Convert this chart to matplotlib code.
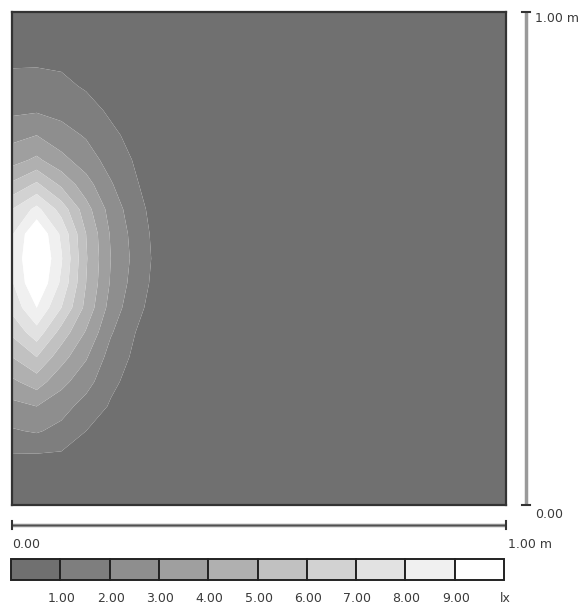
import numpy as np
import matplotlib
matplotlib.use('Agg')
import matplotlib.pyplot as plt
from matplotlib.patches import Rectangle

# ---- data (illuminance grid, lx) ----
x_m = [0.00, 0.05, 0.10, 0.15, 0.20, 0.25, 0.30, 0.40, 1.00]
y_m = [0.00, 0.05, 0.10, 0.15, 0.20, 0.25, 0.30, 0.35, 0.40, 0.45, 0.50,
       0.55, 0.60, 0.65, 0.70, 0.75, 0.80, 0.85, 0.90, 0.95, 1.00]

col_x000 = [0.3, 0.6, 0.9, 1.9, 2.7, 3.8, 5.0, 6.2, 7.3, 7.9, 8.1,
            7.9, 7.0, 5.2, 3.6, 2.7, 1.8, 1.25, 0.9, 0.5, 0.3]
col_x005 = [0.3, 0.6, 0.9, 2.1, 3.0, 4.5, 6.0, 7.6, 9.0, 10.0, 10.3,
            10.0, 8.3, 6.2, 4.2, 3.0, 1.9, 1.3, 0.9, 0.5, 0.3]
col_x010 = [0.3, 0.55, 0.85, 1.7, 2.4, 3.3, 4.4, 5.6, 7.0, 7.8, 8.1,
            7.8, 6.6, 4.8, 3.3, 2.4, 1.7, 1.2, 0.85, 0.5, 0.3]
col_x015 = [0.25, 0.45, 0.6, 1.0, 1.6, 2.4, 3.1, 3.9, 4.7, 5.0, 5.1,
            5.0, 4.4, 3.4, 2.5, 1.9, 1.35, 0.9, 0.7, 0.4, 0.25]
col_x020 = [0.15, 0.3, 0.45, 0.65, 0.9, 1.2, 1.6, 2.1, 2.6, 2.9, 3.0,
            2.9, 2.6, 2.1, 1.6, 1.2, 0.85, 0.6, 0.45, 0.3, 0.15]
col_x025 = [0.1, 0.2, 0.3, 0.4, 0.5, 0.65, 0.8, 1.0, 1.3, 1.55, 1.7,
            1.6, 1.4, 1.1, 0.9, 0.7, 0.5, 0.35, 0.25, 0.2, 0.1]
col_x030 = [0.05, 0.1, 0.15, 0.2, 0.25, 0.3, 0.35, 0.4, 0.45, 0.55, 0.6,
            0.55, 0.45, 0.4, 0.35, 0.3, 0.25, 0.2, 0.15, 0.1, 0.05]
col_x040 = [0.02, 0.04, 0.06, 0.08, 0.1, 0.12, 0.14, 0.16, 0.18, 0.2, 0.2,
            0.2, 0.18, 0.16, 0.14, 0.12, 0.1, 0.08, 0.06, 0.04, 0.02]
col_x100 = [0.0] * 21

level_values = [1, 2, 3, 4, 5, 6, 7, 8, 9]
level_labels = ['1.00', '2.00', '3.00', '4.00', '5.00', '6.00', '7.00', '8.00', '9.00']
unit_label = 'lx'
band_colors = ['#707070', '#7e7e7e', '#8e8e8e', '#9f9f9f', '#b0b0b0',
               '#c1c1c1', '#d2d2d2', '#e2e2e2', '#f0f0f0', '#ffffff']
scale_min_label = '0.00'
scale_max_label = '1.00 m'

Z = np.column_stack([col_x000, col_x005, col_x010, col_x015, col_x020,
                     col_x025, col_x030, col_x040, col_x100])
X, Y = np.meshgrid(x_m, y_m)

W, H = 585, 605
fig = plt.figure(figsize=(W / 100, H / 100), dpi=100)
fig.patch.set_facecolor('white')

# main plot area: px 12..506 horizontally, 12..505 vertically
L, R, T, B = 12, 506, 12, 505
ax = fig.add_axes([L / W, (H - B) / H, (R - L) / W, (B - T) / H])
bounds = [-1] + level_values + [100]
ax.contourf(X, Y, Z, levels=bounds, colors=band_colors, antialiased=True)
ax.set_xlim(0, 1)
ax.set_ylim(0, 1)
ax.set_xticks([])
ax.set_yticks([])
for s in ax.spines.values():
    s.set_color('#333333')
    s.set_linewidth(1.6)

# overlay in pixel coordinates
ov = fig.add_axes([0, 0, 1, 1], zorder=-1)
ov.set_xlim(0, W)
ov.set_ylim(H, 0)
ov.axis('off')

fs = 9
fam = 'DejaVu Sans'
tc = '#3a3a3a'

# vertical scale bar
vx = 526
ov.plot([vx, vx], [T, B], color='#9a9a9a', lw=2.5, solid_capstyle='butt')
ov.plot([vx - 4, vx + 4], [T, T], color='#333333', lw=1.5)
ov.plot([vx - 4, vx + 4], [B, B], color='#333333', lw=1.5)
ov.text(vx + 9, T + 7, scale_max_label, fontsize=fs, family=fam, color=tc,
        ha='left', va='center')
ov.text(vx + 9, B + 10, scale_min_label, fontsize=fs, family=fam, color=tc,
        ha='left', va='center')

# horizontal scale bar
hy = 525
ov.plot([L, R], [hy, hy], color='#8a8a8a', lw=2.5, solid_capstyle='butt')
ov.plot([L, R], [hy, hy], color='#444444', lw=0.6)
ov.plot([L, L], [hy - 4, hy + 4], color='#333333', lw=1.5)
ov.plot([R, R], [hy - 4, hy + 4], color='#333333', lw=1.5)
ov.text(L, hy + 19, scale_min_label, fontsize=fs, family=fam, color=tc,
        ha='left', va='center')
ov.text(R + 2, hy + 19, scale_max_label, fontsize=fs, family=fam, color=tc,
        ha='left', va='center')

# legend colour bar
cb_l, cb_r, cb_t, cb_b = 11, 504, 559, 580
n = len(band_colors)
seg = (cb_r - cb_l) / n
for i, c in enumerate(band_colors):
    ov.add_patch(Rectangle((cb_l + i * seg, cb_t), seg, cb_b - cb_t,
                           facecolor=c, edgecolor='#222222', lw=1.4))
for i, lab in enumerate(level_labels):
    ov.text(cb_l + (i + 1) * seg + 1, 599, lab, fontsize=fs, family=fam,
            color=tc, ha='center', va='center')
ov.text(cb_r + 1, 599, unit_label, fontsize=fs, family=fam, color=tc,
        ha='center', va='center')

fig.savefig('out.png', dpi=100, facecolor='white')
